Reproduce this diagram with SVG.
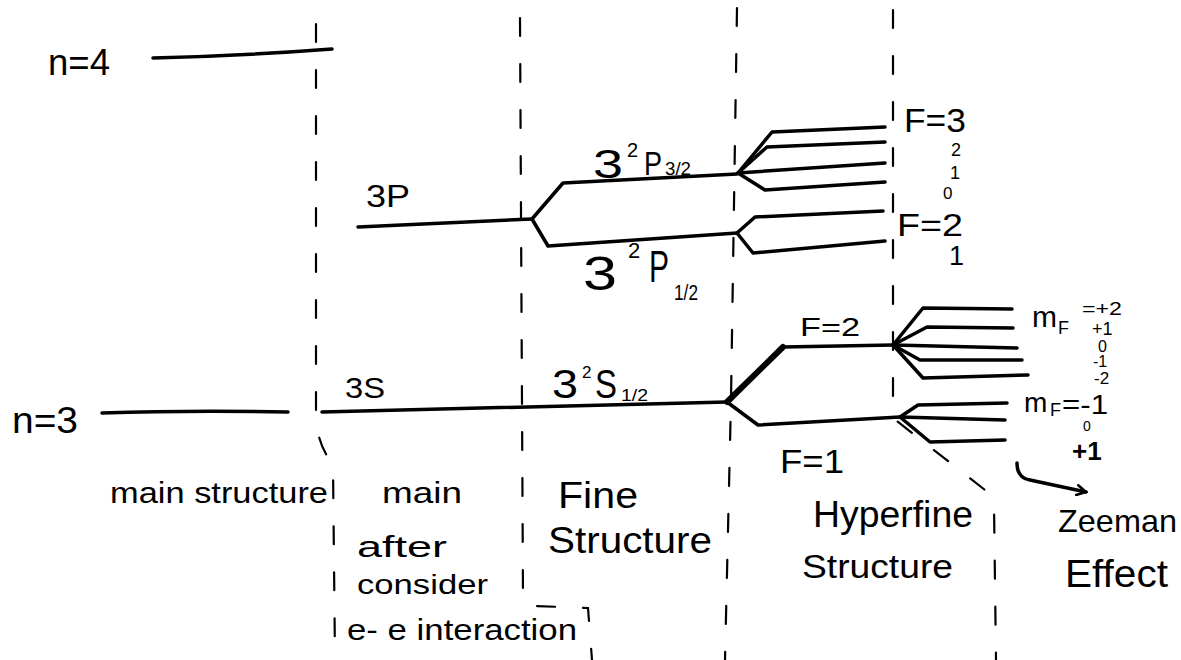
<svg xmlns="http://www.w3.org/2000/svg" width="1181" height="660" viewBox="0 0 1181 660">
  <defs>
    <style>
      .lvl { fill: none; stroke: #000; stroke-width: 3.5; stroke-linecap: round; stroke-linejoin: round; }
      .bold { stroke-width: 6; }
      .dash { fill: none; stroke: #000; stroke-width: 2.2; stroke-dasharray: 18 28; stroke-linecap: round; }
      .t { font-family: "Liberation Sans", "DejaVu Sans", sans-serif; fill: #000; }
    </style>
    <marker id="arrowhead" viewBox="0 0 12 12" refX="10" refY="6" markerWidth="12" markerHeight="12" markerUnits="userSpaceOnUse" orient="auto">
      <path d="M1,1 L10,6 L1,11" fill="none" stroke="#000" stroke-width="2.5" stroke-linecap="round"/>
    </marker>
  </defs>
  <rect width="1181" height="660" fill="#fff"/>

  <!-- column separators -->
  <g id="separators">
    <path class="dash" d="M316,24 L316,420 Q318,445 333,465 L335,660"/>
    <path class="dash" d="M520,18 L523,598 Q524,606 535,606 L588,608 L592,660"/>
    <path class="dash" d="M737,8 L731,400 L725,660"/>
    <path class="dash" d="M893,10 L893,418 L985,490 L994,505 L996,660"/>
  </g>

  <!-- main structure levels -->
  <g id="n4">
    <path class="lvl" d="M153,58 Q240,56 332,49"/>
    <text class="t" x="48" y="75" font-size="36" textLength="62" lengthAdjust="spacingAndGlyphs">n=4</text>
  </g>
  <g id="n3">
    <path class="lvl" d="M102,413 Q190,410 288,412"/>
    <text class="t" x="12" y="433" font-size="36" textLength="66" lengthAdjust="spacingAndGlyphs">n=3</text>
  </g>

  <!-- after e-e interaction -->
  <g id="level-3P">
    <path class="lvl" d="M358,227 L532,219"/>
    <text class="t" x="366" y="207" font-size="32" textLength="44" lengthAdjust="spacingAndGlyphs">3P</text>
  </g>
  <g id="level-3S">
    <path class="lvl" d="M322,412 L727,402"/>
    <text class="t" x="345" y="398" font-size="30" textLength="40" lengthAdjust="spacingAndGlyphs">3S</text>
  </g>

  <!-- fine structure levels -->
  <g id="level-3P32">
    <text class="t" x="593" y="178" font-size="40" textLength="30" lengthAdjust="spacingAndGlyphs">3</text>
    <text class="t" x="627" y="157" font-size="20">2</text>
    <text class="t" x="644" y="175" font-size="34" textLength="18" lengthAdjust="spacingAndGlyphs">P</text>
    <text class="t" x="665" y="175" font-size="18" textLength="26" lengthAdjust="spacingAndGlyphs">3/2</text>
  </g>
  <g id="level-3P12">
    <text class="t" x="583" y="290" font-size="48" textLength="34" lengthAdjust="spacingAndGlyphs">3</text>
    <text class="t" x="628" y="258" font-size="22">2</text>
    <text class="t" x="649" y="282" font-size="44" textLength="20" lengthAdjust="spacingAndGlyphs">P</text>
    <text class="t" x="674" y="300" font-size="22" textLength="24" lengthAdjust="spacingAndGlyphs">1/2</text>
  </g>
  <g id="level-3S12">
    <text class="t" x="552" y="398" font-size="40" textLength="26" lengthAdjust="spacingAndGlyphs">3</text>
    <text class="t" x="582" y="378" font-size="17">2</text>
    <text class="t" x="595" y="398" font-size="40" textLength="22" lengthAdjust="spacingAndGlyphs">S</text>
    <text class="t" x="621" y="401" font-size="17" textLength="27" lengthAdjust="spacingAndGlyphs">1/2</text>
  </g>

  <!-- hyperfine levels -->
  <g id="hf-P32">
    <text class="t" x="904" y="132" font-size="34" textLength="62" lengthAdjust="spacingAndGlyphs">F=3</text>
    <text class="t" x="951" y="156" font-size="18">2</text>
    <text class="t" x="950" y="179" font-size="18">1</text>
    <text class="t" x="943" y="199" font-size="17">0</text>
  </g>
  <g id="hf-P12">
    <text class="t" x="897" y="236" font-size="32" textLength="66" lengthAdjust="spacingAndGlyphs">F=2</text>
    <text class="t" x="949" y="265" font-size="27">1</text>
  </g>
  <g id="hf-S-F2">
    <text class="t" x="800" y="336" font-size="26" textLength="60" lengthAdjust="spacingAndGlyphs">F=2</text>
  </g>
  <g id="hf-S-F1">
    <text class="t" x="780" y="473" font-size="34" textLength="64" lengthAdjust="spacingAndGlyphs">F=1</text>
  </g>

  <!-- Zeeman sublevels -->
  <g id="zeeman-F2">
    <text class="t" x="1032" y="327" font-size="30">m</text>
    <text class="t" x="1058" y="334" font-size="18">F</text>
    <text class="t" x="1082" y="315" font-size="18" textLength="40" lengthAdjust="spacingAndGlyphs">=+2</text>
    <text class="t" x="1092" y="335" font-size="18">+1</text>
    <text class="t" x="1098" y="352" font-size="16">0</text>
    <text class="t" x="1093" y="367" font-size="16">-1</text>
    <text class="t" x="1094" y="384" font-size="17">-2</text>
  </g>
  <g id="zeeman-F1">
    <text class="t" x="1024" y="412" font-size="28">m</text>
    <text class="t" x="1050" y="416" font-size="18">F</text>
    <text class="t" x="1062" y="414" font-size="27" textLength="46" lengthAdjust="spacingAndGlyphs">=-1</text>
    <text class="t" x="1083" y="431" font-size="14">0</text>
    <text class="t" x="1072" y="460" font-size="26" font-weight="bold">+1</text>
  </g>

  <!-- column captions -->
  <g id="captions">
    <text class="t" x="110" y="503" font-size="30" textLength="218" lengthAdjust="spacingAndGlyphs">main structure</text>
    <text class="t" x="382" y="503" font-size="30" textLength="80" lengthAdjust="spacingAndGlyphs">main</text>
    <text class="t" x="357" y="557" font-size="30" textLength="90" lengthAdjust="spacingAndGlyphs">after</text>
    <text class="t" x="357" y="594" font-size="28" textLength="131" lengthAdjust="spacingAndGlyphs">consider</text>
    <text class="t" x="347" y="640" font-size="30" textLength="230" lengthAdjust="spacingAndGlyphs">e- e interaction</text>
    <text class="t" x="558" y="508" font-size="36" textLength="80" lengthAdjust="spacingAndGlyphs">Fine</text>
    <text class="t" x="548" y="553" font-size="36" textLength="164" lengthAdjust="spacingAndGlyphs">Structure</text>
    <text class="t" x="813" y="527" font-size="36" textLength="160" lengthAdjust="spacingAndGlyphs">Hyperfine</text>
    <text class="t" x="802" y="578" font-size="34" textLength="151" lengthAdjust="spacingAndGlyphs">Structure</text>
    <text class="t" x="1058" y="532" font-size="32" textLength="119" lengthAdjust="spacingAndGlyphs">Zeeman</text>
    <text class="t" x="1065" y="587" font-size="38" textLength="103" lengthAdjust="spacingAndGlyphs">Effect</text>
  </g>

  <!-- splitting connectors -->
  <g id="connectors">
    <!-- 3P into fine structure -->
    <path class="lvl" d="M532,219 L563,183 L737,174"/>
    <path class="lvl" d="M532,219 L548,246 L737,233"/>
    <!-- 3S into hyperfine -->
    <path class="lvl bold" d="M727,402 L783,347"/>
    <path class="lvl" d="M783,347 L893,345"/>
    <path class="lvl" d="M727,402 L758,425 L900,417"/>
    <!-- 3P3/2 hyperfine -->
    <path class="lvl" d="M738,173 L772,132 L885,127"/>
    <path class="lvl" d="M738,173 L767,147 L885,142"/>
    <path class="lvl" d="M738,173 L885,163"/>
    <path class="lvl" d="M738,173 L765,190 L885,182"/>
    <!-- 3P1/2 hyperfine -->
    <path class="lvl" d="M737,233 L755,217 L883,211"/>
    <path class="lvl" d="M737,233 L753,253 L885,241"/>
    <!-- Zeeman, F=2 -->
    <path class="lvl" d="M893,345 L923,308 L1012,309"/>
    <path class="lvl" d="M893,345 L927,327 L1013,328"/>
    <path class="lvl" d="M893,345 L1017,348"/>
    <path class="lvl" d="M893,345 L920,360 L1022,360"/>
    <path class="lvl" d="M893,345 L923,378 L1028,375"/>
    <!-- Zeeman, F=1 -->
    <path class="lvl" d="M900,417 L918,405 L1007,403"/>
    <path class="lvl" d="M900,417 L1005,420"/>
    <path class="lvl" d="M900,417 L930,442 L1005,440"/>
    <!-- pointer to the Zeeman caption -->
    <path class="lvl" d="M1017,463 Q1017,478 1030,480 L1086,492" marker-end="url(#arrowhead)"/>
  </g>
</svg>
